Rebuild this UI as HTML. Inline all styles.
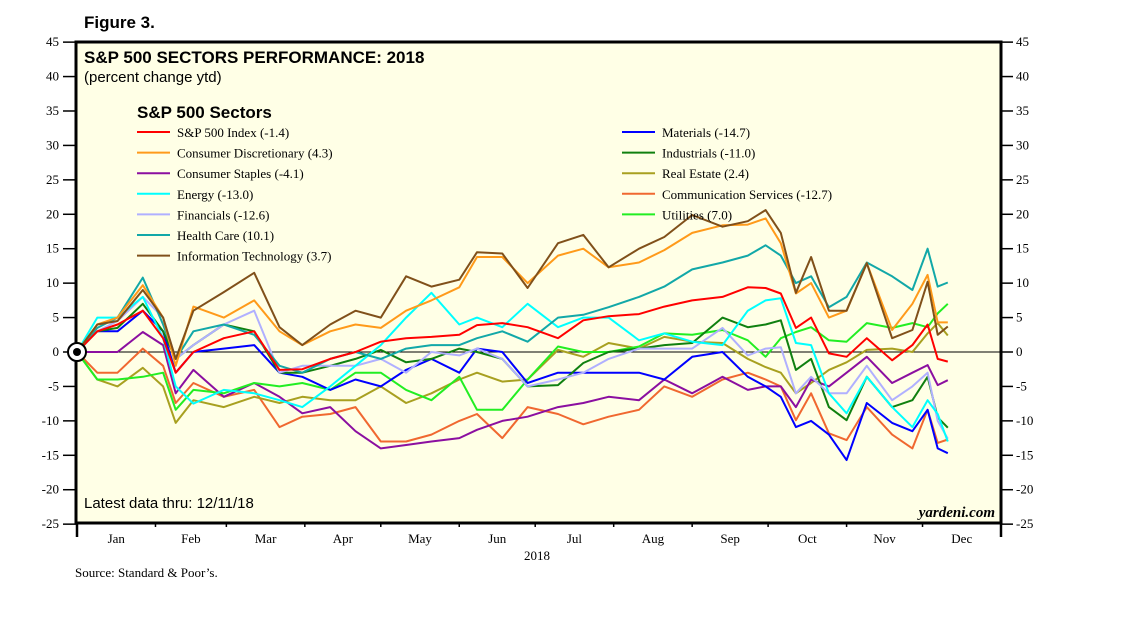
<!DOCTYPE html>
<html><head><meta charset="utf-8"><style>
body{margin:0;background:#fff;}
svg{display:block;}
</style></head><body>
<svg id="chart" width="1138" height="621" xmlns="http://www.w3.org/2000/svg">
<text x="84" y="28" font-family="Liberation Sans, sans-serif" font-size="17" font-weight="bold">Figure 3.</text>
<rect x="76" y="42" width="925" height="481" fill="#ffffe6" stroke="#000" stroke-width="3"/>
<text x="84" y="63" font-family="Liberation Sans, sans-serif" font-size="17" font-weight="bold">S&amp;P 500 SECTORS PERFORMANCE: 2018</text>
<text x="84" y="82" font-family="Liberation Sans, sans-serif" font-size="15">(percent change ytd)</text>
<text x="137" y="118" font-family="Liberation Sans, sans-serif" font-size="17" font-weight="bold">S&amp;P 500 Sectors</text>
<text x="84" y="508" font-family="Liberation Sans, sans-serif" font-size="15">Latest data thru: 12/11/18</text>
<text x="995" y="517" text-anchor="end" font-family="Liberation Serif, serif" font-size="15" font-style="italic" font-weight="bold">yardeni.com</text>
<text x="75" y="577" font-family="Liberation Serif, serif" font-size="13">Source: Standard &amp; Poor’s.</text>
<text x="537" y="560" text-anchor="middle" font-family="Liberation Serif, serif" font-size="13">2018</text>
<g id="axes"></g>
<g id="series"></g>
<g id="legend"></g>
</svg>
<script>
const days = [0,8,16,26,34,39,46,58,70,80,89,100,110,120,130,140,151,158,168,178,190,200,210,222,232,243,255,265,272,278,284,290,297,304,312,322,330,336,340,344];
const spx = [0,3,4,6,2,-3,0,2,3,-2.6,-2.5,-1,0,1.5,2,2.2,2.5,3.9,4.2,3.6,2,4.6,5.2,5.5,6.6,7.5,8,9.4,9.3,8.5,3.5,5,-0.2,-0.7,2,-1.2,1,4,-1,-1.4];
const consDisc = [0,4,5,9.7,5,-2,6.6,5,7.5,3,1,3,4,3.5,6,7.5,9.4,13.8,13.8,10,14,15,12.3,13,14.8,17.3,18.4,18.5,19.4,15.8,8.5,10,5,6,12.9,3.2,7,11.2,4.3,4.3];
const staples = [0,0,0,2.9,1,-6,-2.6,-6.5,-4.5,-6.5,-8.9,-8,-11.5,-14,-13.5,-13,-12.5,-11.3,-10,-9.4,-8,-7.4,-6.5,-7,-4,-6,-3.6,-5.5,-5,-5,-8,-4,-5,-3,-0.7,-4.5,-3,-1.9,-4.8,-4.1];
const energy = [0,5,5,8,2,-5,-7.5,-5.5,-6,-7,-8,-5,-2,1,5,8.6,4,5,3.6,7,3.6,5,5,1.7,2.7,1.5,1,6,7.5,7.8,1.3,1,-6,-8.9,-3.6,-8,-10.9,-7,-9,-13];
const financials = [0,3,4.5,8,5,-1,1,4,6,-3,-2,-2,-2,-1,-3,0,-0.5,0.5,-1,-5,-4,-3,-1,0.5,0.5,0.5,3.5,-0.5,0.5,0.7,-6,-3.6,-6,-6,-2,-7,-5,-3,-10,-12.6];
const healthCare = [0,3.5,5,10.8,4,-1,3,4,2.5,-2,-3,-1,0,-1,0.5,1,1,2,3,1.5,5,5.4,6.5,8,9.5,12,13,14,15.5,14,10,11,6.5,8,13,11,9,15,9.5,10.1];
const infoTech = [0,4,4.5,9,5,-1,6,8.7,11.5,3.6,1,4,6,5,11,9.5,10.5,14.5,14.3,9.3,15.8,17,12.3,15,16.7,19.9,18.2,19,20.6,17.3,8.6,13.8,6,6,12.9,2,3.2,10.2,2.5,3.7];
const materials = [0,3,3,6,3,-3,0,0.5,1,-3,-3.6,-5.5,-4,-5,-2.6,-1,-3,0.5,0,-4.5,-3,-3,-3,-3,-4,-0.7,0,-3.6,-5,-6.5,-10.9,-10,-12,-15.7,-7.4,-10.3,-11.5,-8.4,-14,-14.7];
const industrials = [0,3,3.5,7,3,-1,1,4,3,-3,-3,-2,-1,0.3,-1.5,-1,0.5,0,-1,-5,-4.8,-1.6,0,0.5,1,1.3,5,3.6,4,4.6,-2.6,-1,-8,-9.9,-3.6,-8,-7,-3.6,-9.5,-11];
const realEstate = [0,-4,-5,-2.3,-5,-10.3,-7,-8,-6.5,-7.4,-6.5,-7,-7,-5,-7.4,-6,-4,-3,-4.3,-4,0.3,-0.7,1.3,0.5,2.2,1.5,1.3,-1,-2.2,-3,-6,-4.5,-2.6,-1.5,0.3,0.5,0,2.7,4.2,2.4];
const commServices = [0,-3,-3,0.5,-2,-7.4,-4.5,-6.5,-5.5,-10.9,-9.4,-9,-8,-13,-13,-12,-10,-9,-12.5,-8,-9,-10.5,-9.4,-8.4,-5,-6.5,-4,-3,-4,-5,-9.9,-6,-11.8,-12.8,-8,-12,-14,-8.4,-13.2,-12.7];
const utilities = [0,-4,-4,-3.6,-3,-8.4,-5.5,-6,-4.5,-5,-4.5,-5.5,-3,-3,-5.5,-7,-3.6,-8.4,-8.4,-4,0.8,0,0,0.8,2.7,2.5,3.2,1.7,-0.7,2,2.9,3.6,1.7,1.5,4.2,3.5,4.2,3.6,5.6,7];
const seriesNames = ["S&P 500 Index (-1.4)","Consumer Discretionary (4.3)","Consumer Staples (-4.1)","Energy (-13.0)","Financials (-12.6)","Health Care (10.1)","Information Technology (3.7)","Materials (-14.7)","Industrials (-11.0)","Real Estate (2.4)","Communication Services (-12.7)","Utilities (7.0)"];
const yTicks = [45,40,35,30,25,20,15,10,5,0,-5,-10,-15,-20,-25];
const months = ["Jan","Feb","Mar","Apr","May","Jun","Jul","Aug","Sep","Oct","Nov","Dec"];
const monthStarts = [0,31,59,90,120,151,181,212,243,273,304,334,365];

const NS="http://www.w3.org/2000/svg";
const colors=["#ff0000","#ff9a1a","#8b0fa0","#00ffff","#b0b0ff","#12a8a8","#80501a","#0000ff","#108010","#a8a020","#f06830","#22ee22"];
const allSeries=[spx,consDisc,staples,energy,financials,healthCare,infoTech,materials,industrials,realEstate,commServices,utilities];
const drawOrder=[10,9,2,11,7,8,4,3,5,0,1,6];
const seriesKeys=["sp500","consumer-discretionary","consumer-staples","energy","financials","health-care","information-technology","materials","industrials","real-estate","communication-services","utilities"];
function xS(d){return 77+d*(924/365);}
function yS(v){return 352-v*6.886;}
function mk(tag,attrs,parent){const e=document.createElementNS(NS,tag);for(const k in attrs)e.setAttribute(k,attrs[k]);parent.appendChild(e);return e;}
const axes=document.getElementById('axes');
yTicks.forEach(v=>{
  const y=yS(v);
  const t1=mk('line',{x1:63,x2:76,y1:y,y2:y,stroke:'#000','stroke-width':1.5},axes);
  
  
  const t2=mk('line',{x1:1001,x2:1013,y1:y,y2:y,stroke:'#000','stroke-width':1.5},axes);
  
  
  const l1=mk('text',{x:59,y:y+4,'text-anchor':'end','font-family':'Liberation Serif, serif','font-size':13},axes);
  l1.textContent=v;
  
  
  const l2=mk('text',{x:1016,y:y+4,'font-family':'Liberation Serif, serif','font-size':13},axes);
  l2.textContent=v;
  
  
});
const zl=mk('line',{x1:76,x2:1001,y1:yS(0),y2:yS(0),stroke:'#000','stroke-width':1},axes);


monthStarts.forEach((d,i)=>{
  const x=xS(d);
  const edge=(i===0||i===12);
  const t=mk('line',{x1:x,x2:x,y1:523,y2:edge?537:527,stroke:'#000','stroke-width':edge?2.5:1.5},axes);
  
  
  if(i<12){
    const l=mk('text',{x:xS((d+monthStarts[i+1])/2),y:543,'text-anchor':'middle','font-family':'Liberation Serif, serif','font-size':13},axes);
    l.textContent=months[i];
    
    
  }
});
const sg=document.getElementById('series');
drawOrder.forEach(i=>{
  const pts=days.map((d,j)=>xS(d).toFixed(1)+','+yS(allSeries[i][j]).toFixed(1)).join(' ');
  const p=mk('polyline',{points:pts,fill:'none',stroke:colors[i],'stroke-width':2,'stroke-linejoin':'round'},sg);
  
  
});
const c1=mk('circle',{cx:77,cy:yS(0),r:9,fill:'#fff',stroke:'#000','stroke-width':2},sg);


mk('circle',{cx:77,cy:yS(0),r:4,fill:'#000'},sg);
const lg=document.getElementById('legend');
seriesNames.forEach((n,i)=>{
  const col=i<7?0:1, row=i<7?i:i-7;
  const x=col?622:137, y=132+row*20.6;
  const ln=mk('line',{x1:x,x2:x+33,y1:y,y2:y,stroke:colors[i],'stroke-width':2},lg);
  
  
  const t=mk('text',{x:x+40,y:y+5,'font-family':'Liberation Serif, serif','font-size':13},lg);
  t.textContent=n;
  
  
});
</script>
</body></html>
